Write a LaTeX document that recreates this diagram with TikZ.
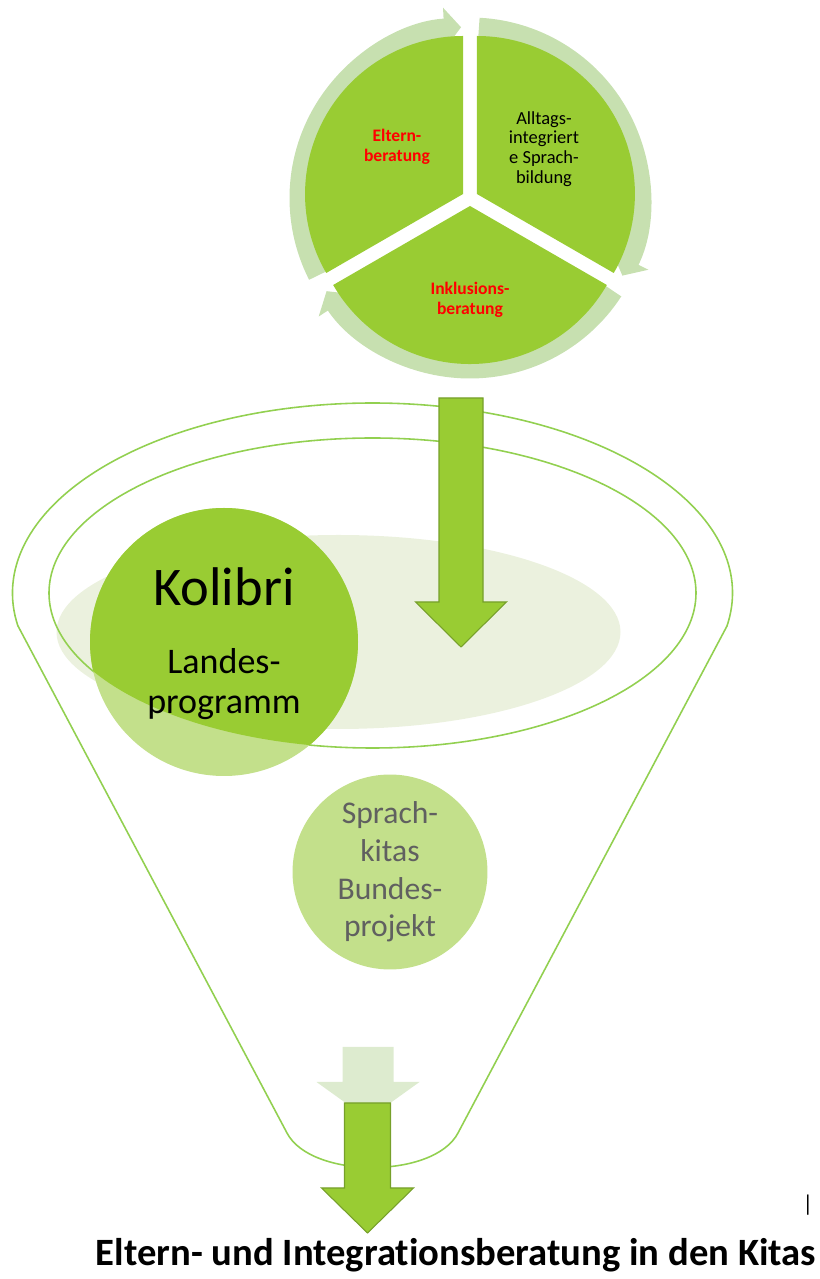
\documentclass[tikz,border=0pt]{standalone}
\usepackage{fontspec}
\setmainfont{Carlito}[Ligatures=NoCommon]
\usetikzlibrary{arrows.meta}

\definecolor{kgreen}{RGB}{153,204,51}
\definecolor{kring}{RGB}{199,224,176}
\definecolor{krim}{RGB}{146,208,80}
\definecolor{khaze}{RGB}{235,241,222}
\definecolor{ksoft}{RGB}{195,224,139}
\definecolor{kghost}{RGB}{221,235,207}
\definecolor{kedge}{RGB}{118,160,42}
\definecolor{kgrey}{RGB}{96,96,96}

% block arrow pointing down: style, x, top, head base, tip, half shaft, half head
\newcommand{\blockarrow}[7]{\draw[#1] ({#2-#6},#3) -- ({#2+#6},#3) -- ({#2+#6},#4) -- ({#2+#7},#4) -- (#2,#5) -- ({#2-#7},#4) -- ({#2-#6},#4) -- cycle;}

\begin{document}
\begin{tikzpicture}[x=0.02cm, y=0.02cm,
    rimline/.style={draw=krim, line width=0.9pt},
    solidarrow/.style={fill=kgreen, draw=kedge, line width=0.6pt},
    ghostarrow/.style={fill=kghost, draw=none},
    cyclearc/.style={draw=kring, line width=0.38cm, -{Triangle[width=0.8cm,length=0.34cm]}},
    redlabel/.style={text=red, font=\bfseries\fontsize{10}{11.5}\selectfont, align=center}]
    \useasboundingbox (0,0) rectangle (819,1279);

    % funnel
    \fill[khaze] (338.5,647) ellipse[x radius=282, y radius=97];
    \draw[rimline] (18,653) -- (287,146) .. controls (311,100) and (434,100) .. (458,146) -- (727,653)
        arc[start angle=-10, end angle=190, x radius=360, y radius=190] -- cycle;
    \draw[rimline] (372.5,686) ellipse[x radius=323.5, y radius=155];

    % Kolibri, brighter inside the rim
    \fill[ksoft] (224,637) circle[radius=134];
    \begin{scope}
        \clip (372.5,686) ellipse[x radius=323.5, y radius=155];
        \fill[kgreen] (224,637) circle[radius=134];
    \end{scope}
    \node[font=\fontsize{31}{36}\selectfont] (kolibri) at (224,692) {Kolibri};
    \node[font=\fontsize{20.5}{22.7}\selectfont, align=center] (landes) at (224,595) {Landes-\\programm};

    \node[circle, fill=ksoft, minimum size=3.9cm, inner sep=0pt, text=kgrey, align=center,
        font=\fontsize{18}{21.4}\selectfont] (sprachkitas) at (390,407) {Sprach-\\kitas\\Bundes-\\projekt};

    % arrows
    \blockarrow{solidarrow}{461}{881}{677}{632}{22}{45.5}
    \blockarrow{ghostarrow}{368}{232}{197}{160}{25.5}{51.5}
    \blockarrow{solidarrow}{367.5}{176}{91}{46}{23}{46}

    % cycle on top
    \coordinate (O) at (470,1081);
    \foreach \g [evaluate=\g as \a using \g-3, evaluate=\g as \e using \g-117] in {210,90,-30}
        \draw[cyclearc] (O) ++(\a:171) arc[start angle=\a, end angle=\e, radius=171];
    \foreach \b [evaluate=\b as \s using \b+60, evaluate=\b as \e using \b-60] in {150,30,270}
        \fill[kgreen] (O) ++(\b:8) -- ++(\s:158) arc[start angle=\s, end angle=\e, radius=158] -- cycle;
    \node[redlabel] (eltern) at (397,1132) {Eltern-\\beratung};
    \node[align=center, font=\fontsize{10.5}{11.3}\selectfont] (alltags) at (544,1130) {Alltags-\\integriert\\e Sprach-\\bildung};
    \node[redlabel] (inklusion) at (470,979) {Inklusions-\\beratung};

    \node[font=\bfseries\fontsize{22}{26}\selectfont] (title) at (456,24) {Eltern- und Integrationsberatung in den Kitas};
    \node[font=\fontsize{13}{15}\selectfont] (bar) at (808,74) {|};
\end{tikzpicture}
\end{document}
